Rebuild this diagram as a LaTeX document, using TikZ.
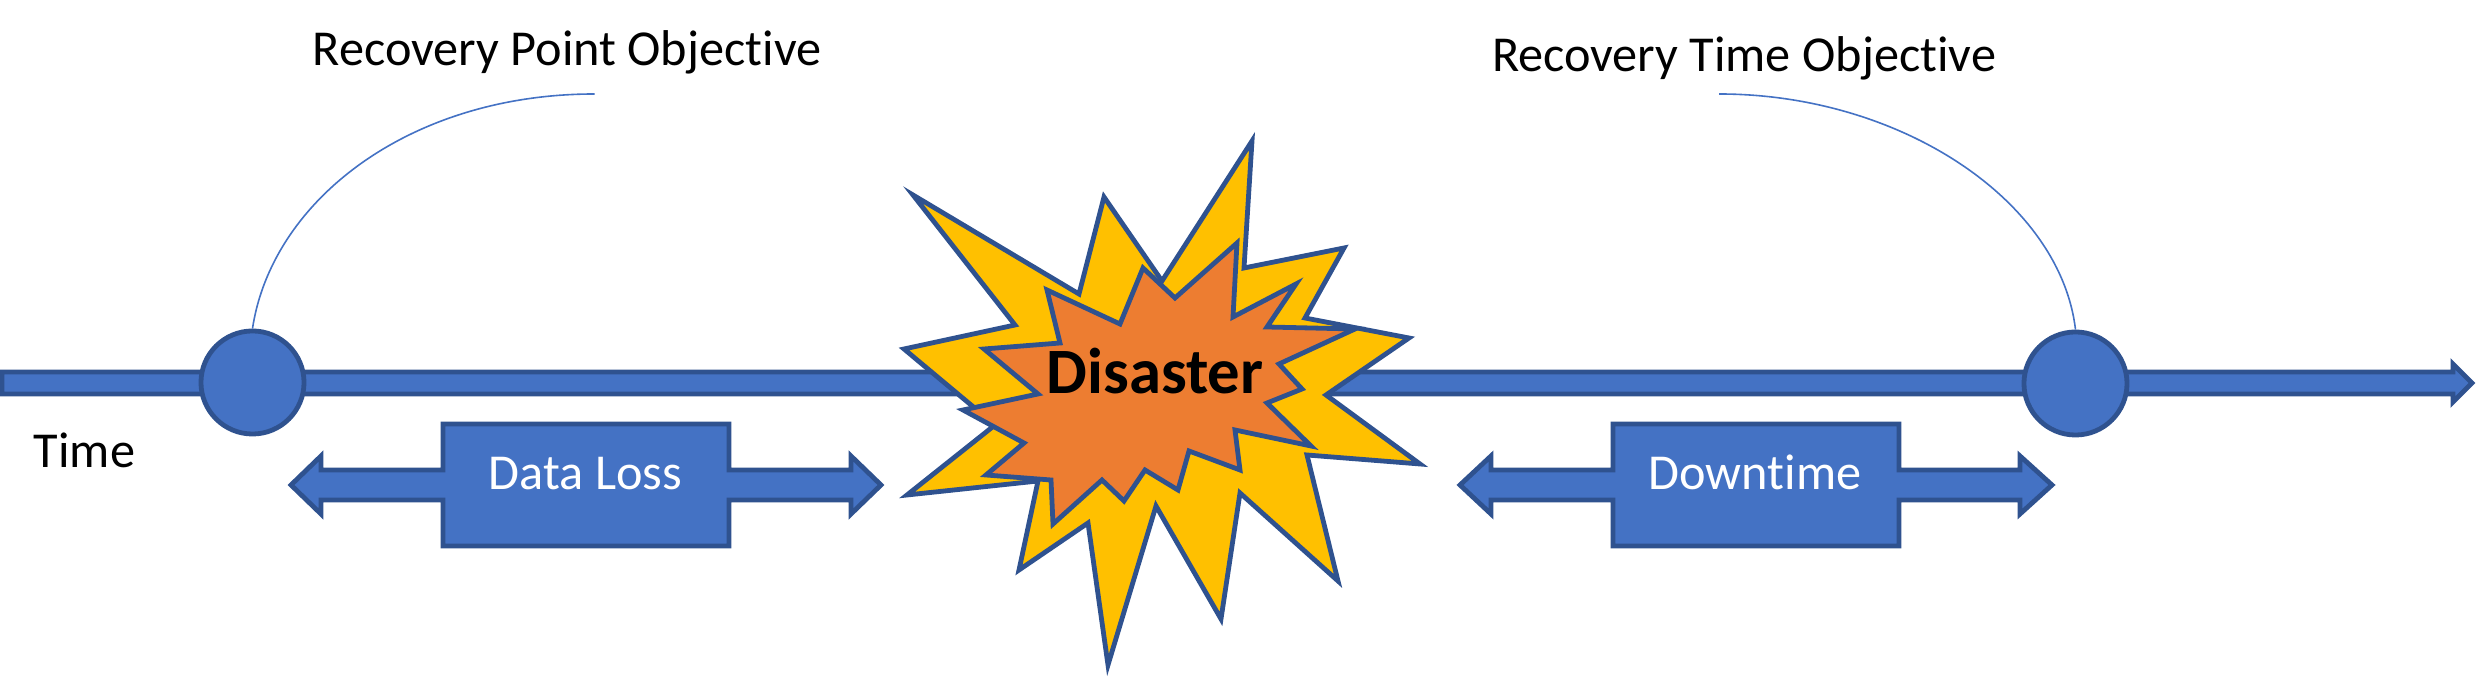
\documentclass[tikz,border=0pt]{standalone}
\usepackage{fontspec}
\setmainfont{Carlito}[Ligatures=NoCommon]
\definecolor{shapeblue}{HTML}{4472C4}
\definecolor{edgeblue}{HTML}{2F528F}
\definecolor{burstyellow}{HTML}{FFC000}
\definecolor{burstorange}{HTML}{ED7D31}
\begin{document}
\begin{tikzpicture}
        [x=0.01cm, y=-0.01cm,
        blueshape/.style={draw=edgeblue, fill=shapeblue, line width=0.048cm, miter limit=20},
        outerburst/.style={blueshape, fill=burstyellow},
        innerburst/.style={blueshape, fill=burstorange},
        marker/.style={blueshape, circle, inner sep=0pt, minimum size=1.03cm},
        link/.style={shapeblue, line width=0.016cm},
        textlabel/.style={anchor=base, inner sep=0pt, font=\fontsize{14.3}{16}\selectfont},
        boxlabel/.style={textlabel, text=white},
        burstlabel/.style={textlabel, font=\fontsize{18.4}{20}\selectfont\bfseries}]

        \useasboundingbox (0,0) rectangle (2477,680);

        % time line
        \draw[blueshape] (2,372) -- (2453,372) -- (2453,364) -- (2472,383) -- (2453,402) -- (2453,394) -- (2,394) -- cycle;

        % points on the time line
        \node[marker] (rpo) at (252.5,382.5) {};
        \node[marker] (rto) at (2075.5,383.5) {};

        % ends of the curves
        \coordinate (rpoend) at (594.5,94);
        \coordinate (rtoend) at (1719,94);
        \draw[link] (rpo.north) .. controls (272,200) and (410,94) .. (rpoend);
        \draw[link] (rtoend) .. controls (1900,94) and (2060,200) .. (rto.north);

        % double arrows with box
        \draw[blueshape] (291,485) -- (321,456) -- (321,470) -- (443,470) -- (443,424) -- (729,424) -- (729,470)
                -- (851,470) -- (851,456) -- (881,485) -- (851,514) -- (851,500) -- (729,500) -- (729,546)
                -- (443,546) -- (443,500) -- (321,500) -- (321,514) -- cycle;
        \draw[blueshape] (1460,485) -- (1491,456) -- (1491,470) -- (1613,470) -- (1613,424) -- (1899,424) -- (1899,470)
                -- (2020,470) -- (2020,456) -- (2052,485) -- (2020,514) -- (2020,500) -- (1899,500) -- (1899,546)
                -- (1613,546) -- (1613,500) -- (1491,500) -- (1491,514) -- cycle;

        % bursts
        \draw[outerburst] (913,195) -- (1079,294) -- (1104,197) -- (1162,281) -- (1252,141) -- (1244,268)
                -- (1344,248) -- (1305,318) -- (1409,338) -- (1326,395) -- (1420,464) -- (1307,455)
                -- (1338,581) -- (1240,493) -- (1221,619) -- (1156,506) -- (1108,665) -- (1088,523)
                -- (1019,570) -- (1038,481) -- (907,495) -- (995,425) -- (904,349) -- (1015,325) -- cycle;
        \draw[innerburst] (1047,290) -- (1120,324) -- (1143,268) -- (1175,298) -- (1237,243) -- (1233,317)
                -- (1296,284) -- (1267,327) -- (1355,329) -- (1279,364) -- (1302,389) -- (1267,403)
                -- (1311,446) -- (1235,430) -- (1240,470) -- (1189,451) -- (1178,490) -- (1145,470)
                -- (1124,501) -- (1102,480) -- (1053,524) -- (1051,480) -- (986,475) -- (1024,443)
                -- (963,410) -- (1038,394) -- (984,349) -- (1060,343) -- cycle;

        % labels
        \node[textlabel] (rpolabel) at (567,66) {Recovery Point Objective};
        \node[textlabel] (rtolabel) at (1744,72) {Recovery Time Objective};
        \node[textlabel] (timelabel) at (84.5,468) {Time};
        \node[boxlabel] (lossbox) at (585.5,490) {Data Loss};
        \node[boxlabel] (downbox) at (1755,490) {Downtime};
        \node[burstlabel] (burst) at (1155,394) {Disaster};

\end{tikzpicture}
\end{document}
